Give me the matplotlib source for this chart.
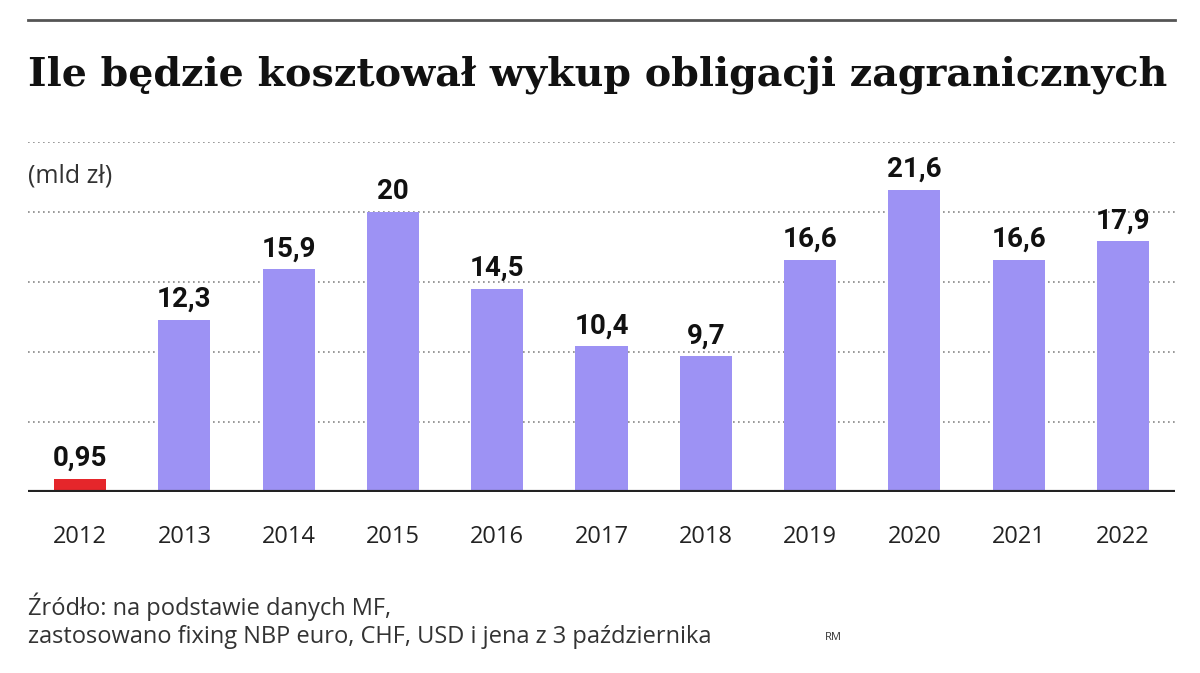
import numpy as np
import matplotlib.pyplot as plt
from matplotlib.lines import Line2D

# DATA
years = ['2012', '2013', '2014', '2015', '2016', '2017', '2018', '2019', '2020', '2021', '2022']
values = [0.95, 12.3, 15.9, 20, 14.5, 10.4, 9.7, 16.6, 21.6, 16.6, 17.9]
labels = ['0,95', '12,3', '15,9', '20', '14,5', '10,4', '9,7', '16,6', '21,6', '16,6', '17,9']

fig = plt.figure(figsize=(12, 6.73), dpi=100)
ax = fig.add_axes([28/1200, 181/673, 1147/1200, 350/673])

colors = ['#e5262b'] + ['#9d92f4'] * (len(years) - 1)
x = np.arange(len(years))
ax.bar(x, values, width=0.5, color=colors, zorder=2)

for i, v in enumerate(values):
    ax.text(i, v + 0.5, labels[i], ha='center', va='bottom', fontsize=20,
            fontweight='bold', family='Roboto', color='#111111')

ax.set_xlim(-0.5, len(years) - 0.5)
ax.set_ylim(0, 25)
for g in [5, 10, 15, 20, 25]:
    ax.axhline(g, color='#888888', linestyle=(0, (1, 2)), linewidth=1.2, zorder=1)
ax.axhline(0, color='#222222', linewidth=3, zorder=3)

ax.set_xticks(x)
ax.set_xticklabels(years, fontsize=17, family='Open Sans', color='#222222')
ax.tick_params(axis='x', length=0, pad=24)
ax.set_yticks([])
for s in ax.spines.values():
    s.set_visible(False)

ax.text(0, 22.6, '(mld zł)', fontsize=18, family='Open Sans', color='#333333',
        transform=ax.get_yaxis_transform(), va='center')

fig.add_artist(Line2D([28/1200, 1175/1200], [1 - 20/673, 1 - 20/673], color='#555555', linewidth=2))
fig.text(28/1200, 1 - 75/673, 'Ile będzie kosztował wykup obligacji zagranicznych',
         fontsize=28.5, fontweight='bold', family='DejaVu Serif', va='center', color='#111111')

fig.text(28/1200, 1 - 607/673, 'Źródło: na podstawie danych MF,', fontsize=17,
         family='Open Sans', color='#333333', va='center')
fig.text(28/1200, 1 - 637/673, 'zastosowano fixing NBP euro, CHF, USD i jena z 3 października',
         fontsize=17, family='Open Sans', color='#333333', va='center')
fig.text(825/1200, 1 - 637/673, 'RM', fontsize=8, family='Open Sans', color='#333333', va='center')

fig.savefig('out.png', dpi=100, facecolor='white')
